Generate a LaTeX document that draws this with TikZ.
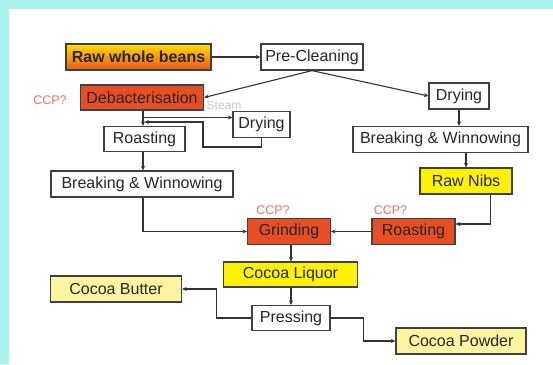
\documentclass[tikz,border=0pt]{standalone}
\usepackage{fontspec}
\setmainfont{Liberation Sans}
\usetikzlibrary{arrows.meta, positioning}

\definecolor{ccpred}{RGB}{242,112,100}
\definecolor{roastred}{RGB}{232,78,36}
\definecolor{liqyellow}{RGB}{255,242,0}
\definecolor{paleyellow}{RGB}{255,245,160}
\definecolor{framecyan}{RGB}{170,242,236}
\definecolor{edgegray}{RGB}{64,64,64}
\definecolor{beantop}{RGB}{255,224,0}
\definecolor{beanbot}{RGB}{238,82,30}

\begin{document}
\begin{tikzpicture}[
        x=1pt, y=-1pt,
        >=Stealth,
        box/.style={draw=edgegray, line width=1.2pt, rectangle, fill=white,
            inner sep=0pt, minimum height=26pt, text=black!85,
            font=\fontsize{16}{18}\selectfont},
        redbox/.style={box, fill=roastred},
        liqbox/.style={box, fill=liqyellow},
        prodbox/.style={box, fill=paleyellow},
        ccp/.style={text=ccpred, inner sep=0pt, font=\fontsize{12.5}{14}\selectfont},
        line/.style={draw=black!80, line width=1.1pt,
            -{Stealth[length=4.5pt, width=4pt]}},
    ]

    % frame of the slide
    \fill[white] (0,0) rectangle (553,364);
    \fill[framecyan] (0,0) rectangle (553,8.5);
    \fill[framecyan] (0,0) rectangle (8.5,364);
    \useasboundingbox (0,0) rectangle (553,364);

    % 1. Beans and cleaning
    \node[box, minimum width=145pt, top color=beantop, bottom color=beanbot,
          font=\fontsize{16}{18}\selectfont\bfseries] (raw) at (138.5,57)
        {Raw whole beans};
    \node[box, minimum width=102pt] (preclean) at (312,57) {Pre-Cleaning};

    % 2. Left route (debacterised beans)
    \node[redbox, minimum width=123pt, minimum height=25pt] (debact) at (142,97.5)
        {Debacterisation};
    \node[ccp] (ccpdebact) at (50,100) {CCP?};
    \node[text=black!22, inner sep=0pt, font=\fontsize{12}{14}\selectfont]
        (steam) at (224,105) {Steam};
    \node[box, minimum width=57pt] (dryL) at (261.5,124.5) {Drying};
    \node[box, minimum width=81pt, minimum height=25pt] (roastL) at (144.5,139)
        {Roasting};
    \node[box, minimum width=182pt] (bwL) at (142,184) {Breaking \& Winnowing};

    % 3. Right route (raw nibs)
    \node[box, minimum width=60pt] (dryR) at (459,96) {Drying};
    \node[box, minimum width=175pt] (bwR) at (440.5,139.5) {Breaking \& Winnowing};
    \node[liqbox, minimum width=92pt] (nibs) at (466,181) {Raw Nibs};
    \node[redbox, minimum width=83pt] (roastR) at (413.5,231.5) {Roasting};
    \node[ccp] (ccproast) at (390.5,210) {CCP?};

    % 4. Grinding and pressing
    \node[redbox, minimum width=83pt] (grind) at (289,231.5) {Grinding};
    \node[ccp] (ccpgrind) at (273,210) {CCP?};
    \node[liqbox, minimum width=134pt, minimum height=25pt] (liquor) at (290.5,274.5)
        {Cocoa Liquor};
    \node[box, minimum width=78pt, minimum height=25pt] (press) at (291,318)
        {Pressing};
    \node[prodbox, minimum width=131pt] (butter) at (116,289) {Cocoa Butter};
    \node[prodbox, minimum width=130pt] (powder) at (461,341) {Cocoa Powder};

    \coordinate (steamjoin) at (143,117.5);
    \coordinate (loopend) at (144.5,122);

    % --- Arrows ---
    \path[line] (raw) -- (preclean);
    \path[line] (preclean.south) -- (debact.east);
    \path[line] (preclean.south) -- (dryR.west);
    \path[line] (debact.south -| steamjoin) -- (roastL.north -| steamjoin);
    \path[line] (steamjoin) -- (steamjoin -| dryL.west);
    \path[line] (dryL.south) |- (203,147) |- (loopend);
    \path[line] (roastL.south -| steamjoin) -- (bwL.north -| steamjoin);
    \path[line] (bwL.south -| steamjoin) |- (grind.west);
    \path[line] (dryR) -- (dryR |- bwR.north);
    \path[line] (bwR.south -| nibs) -- (nibs.north);
    \path[line] ([xshift=-22pt]nibs.south east) |- ([yshift=7.5pt]roastR.east);
    \path[line] (roastR) -- (grind);
    \path[line] ([xshift=2pt]grind.south) -- ([xshift=2pt]grind.south |- liquor.north);
    \path[line] (liquor.south -| press) -- (press.north);
    \path[line] (press.west) -- ++(-35,0) |- (butter.east);
    \path[line] (press.east) -- ++(33,0) |- (powder.west);

\end{tikzpicture}
\end{document}
